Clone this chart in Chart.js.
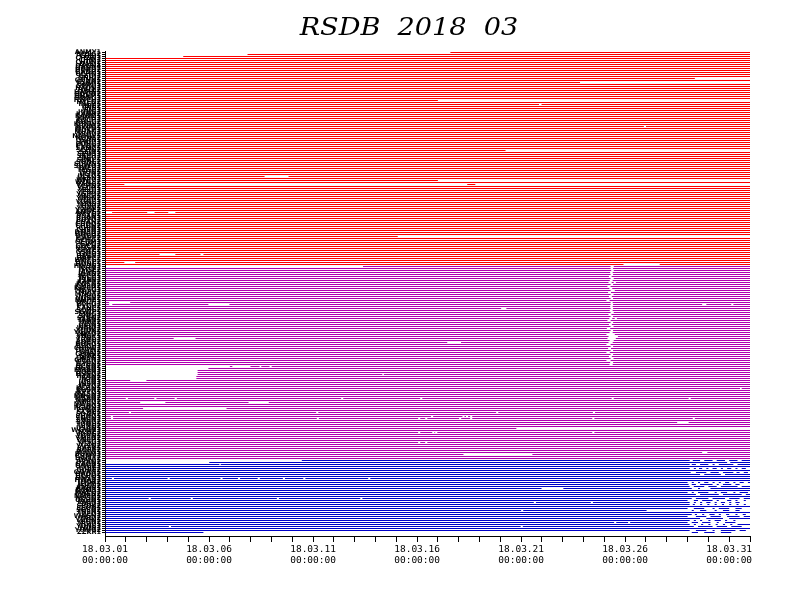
<!DOCTYPE html>
<html><head><meta charset="utf-8">
<script src="https://cdn.jsdelivr.net/npm/chart.js@4.4.0/dist/chart.umd.min.js"></script>
<style>html,body{margin:0;padding:0;background:#fff;}</style>
</head><body>
<canvas id="c" width="792" height="612"></canvas>
<script>
// ---------------- DATA ----------------
const titleText = 'RSDB  2018  03';
const dayTicks = [0,1,2,3,4,5,6,7,8,9,10,11,12,13,14,15,16,17,18,19,20,21,22,23,24,25,26,27,28,29,30,31];
const majorDays = [0,5,10,15,20,25,30];
const dateLabels = ['18.03.01','18.03.06','18.03.11','18.03.16','18.03.21','18.03.26','18.03.31'];
const timeLabels = ['00:00:00','00:00:00','00:00:00','00:00:00','00:00:00','00:00:00','00:00:00'];

const stationLabels = ('ANMY1 BOSG2 CHEJ1 CHLW3 CHNJ1 CHUN2 DAEJ1 DAGN4 DANG1 DOKD2 ' +
'GANH1 GCHN3 GEOJ1 GNJU2 GOHN1 GSAN2 GUMI1 GWNJ3 HADN1 HALL2 ' +
'HAMN1 HDON2 HNAM1 HONG3 HWCH1 HYEN2 INCH1 INJE2 JEJU1 JINJ3 ' +
'JUNG1 KANR2 KARM1 KIMH3 KOCH1 KOHG2 KUNW1 KWNJ2 MKPO1 MOKP3 ' +
'MUAN1 MUJU2 NAMW1 NONS2 OSAN1 PAJU3 POHG1 PUSN2 SAMC1 SCHN2 ' +
'SEJN1 SEOS3 SKCH1 SNJU2 SOKC1 SONC2 SUWN1 SUWO3 TAEB1 TEGU2 ' +
'TJON1 ULJN2 ULLG1 ULSN3 WNJU1 WOLS2 YANG1 YCHN2 YECH1 YEOJ3 ' +
'YESU1 YGPO2 YNGJ1 YNSN2 YOJU1 YONG3 YOUS1 YPRI2 YSAN1 YWOL2 ' +
'ANDG1 BRYG2 BSAN1 BUAN3 BUYO1 CHAN2 CHDO1 CHGN2 CHJN1 CHSN3 ' +
'DMSN1 DNGH2 DUCH1 GAPY2 GCHG1 GEUM3 GIMJ1 GOCH2 GOSN1 GRYE2 ' +
'GSNG1 GYJU3 HAEN1 HAPC2 HMYG1 HNGC2 HONC1 HWSN3 ICHN1 IMSL2 ' +
'JANG1 JDAN2 JECH1 JNGS3 JSAN1 KAPY2 KGSN1 KMSN2 KWCH1 MGYG3 ' +
'MIRY1 MNGY2 NAJU1 NGSN2 NMHE1 OKCH3 PCHG1 PYCH2 SANC1 SCHG2 ' +
'SGWP1 SJNG3 SNGJ1 SSAN2 TAAN1 UIRY2 UISN1 URJN3 WANJ1 YDOK2 ' +
'YGWN1 YNGD2 YNGY1 YSNG3 YUNG1 BOEN2 BONG1 BUCH3 CHRW1 DNYN2 ' +
'GAEJ1 GDAN2 GJAE1 GKSN3 GMRN1 GSGU2 GYEN1 HCHN2 HGAN1 HMAN3 ' +
'HOEN1 HSNG2 HYAN1 IKSN2 JAIN1 JGSN3 JNSN1 JPYG2 KCHN1 KOSN2 ' +
'KPYG1 MASN3 MNGN1 MSAN2 NDSN1 NMJU2 NWSN1 OSNG3 PGWN1 PYNG2 ' +
'SCHE1 SDAN2 SHNG1 SNGN3 SNSN1 SYNG2 TONG1 UJNG2 USAN1 WGWN3 ' +
'YCHE1 YDNG2 YGSN1 YMSN2 YNCH1 YPYG3 YSNJ1 YUSN2 BAEK1 BGRY2 ' +
'BOSN1 BUKM3 CHMY1 DAMY2 DANJ1 DSAN2 GAGN1 GNGR3 GOJE1 GURY2 ' +
'GWAN1 HADG2 HCHO1 HNSN3 HWAS1 JDOK2 JEOM1 JOGS2 KAPN1 KUMS3 ' +
'MAPO1 MYEN2 NAMH1 NOSN2 OCHN1 PAEN3 SAGJ1 SBUK2 SEON1 SOSN2 ' +
'TNSN1 UJEO3 WAGN1 YAGJ2 YDON1 YEGN2 YGJU1 YONS3 YUIN1 YUMG2 ZZKR1').split(' ');

// Availability segments per station row, in days since 18.03.01 00:00 (F = whole month)
const F = [[0, 31]];
const redRows = [
  [[16.6,31]], [[6.85,31]], [[3.76,31]], F, F, F, F, F, F, F, F, F, F,
  [[0,28.35]], F, [[0,22.83]], F, F, F, F, F, F, F, F,
  [[0,16.0]], F, [[0,20.86],[20.98,31]], F, F, F, F, F, F, F, F, F, F,
  [[0,25.9],[26.0,31]], F, F, F, F, F, F, F, F, F, F, F,
  [[0,19.25]], F, F, F, F, F, F, F, F, F, F, F, F,
  [[0,7.67],[8.82,31]], F, [[0,16.0]], F, [[0,0.93],[17.41,17.8]],
  F, F, F, F, F, F, F, F, F, F, F, F, F,
  [[0.34,2.03],[2.38,3.04],[3.38,31]], F, F, F, F, F, F, F, F, F, F, F,
  [[0,14.07]], F, F, F, F, F, F, F, F,
  [[0,2.62],[3.38,4.59],[4.73,31]], F, F, F,
  [[0,0.93],[1.45,31]], [[0,24.92],[26.66,31]]
];
const magentaRows = [
  [[12.4,24.3],[24.45,31]],
  [[0,24.3],[24.42,31]], [[0,24.33],[24.45,31]], [[0,24.28],[24.4,31]], [[0,24.3],[24.42,31]],
  [[0,24.22],[24.35,31]], [[0,24.3],[24.45,31]], [[0,24.26],[24.4,31]], [[0,24.2],[24.35,24.45],[24.55,31]],
  [[0,24.3],[24.42,31]], [[0,24.15],[24.3,31]], [[0,24.24],[24.38,31]], [[0,24.3],[24.5,31]],
  [[0,24.18],[24.32,31]], [[0,24.3],[24.44,31]], [[0,24.22],[24.36,31]], [[0,24.3],[24.42,31]],
  [[0,24.1],[24.25,31]],
  [[0,0.2],[1.21,24.3],[24.4,31]],
  [[0,0.2],[0.35,4.97],[5.98,24.3],[24.42,28.7],[28.9,30.1],[30.2,31]],
  [[0,24.28],[24.4,31]],
  [[0,19.04],[19.29,24.3],[24.42,31]],
  [[0,24.26],[24.4,31]], [[0,24.3],[24.45,31]], [[0,24.2],[24.34,31]], [[0,24.3],[24.42,31]],
  [[0,24.24],[24.38,24.5],[24.6,31]], [[0,24.15],[24.3,31]], [[0,24.3],[24.42,31]], [[0,24.22],[24.36,31]],
  [[0,24.3],[24.44,31]], [[0,24.12],[24.28,31]], [[0,24.3],[24.42,31]], [[0,24.25],[24.4,31]],
  [[0,24.1],[24.5,31]], [[0,24.2],[24.65,31]],
  [[0,3.3],[4.35,24.15],[24.55,31]],
  [[0,24.25],[24.45,31]],
  [[0,16.45],[17.11,24.2],[24.4,31]],
  [[0,24.1],[24.3,31]], [[0,24.3],[24.42,31]], [[0,24.18],[24.32,31]], [[0,24.3],[24.42,31]],
  [[0,24.1],[24.26,31]], [[0,24.3],[24.42,31]], [[0,24.22],[24.36,31]], [[0,24.3],[24.44,31]],
  [[0,24.1],[24.3,31]], [[0,24.28],[24.42,31]], [[0,24.25],[24.4,31]],
  [[6.0,6.12],[6.99,7.43],[7.51,7.91],[8.01,31]],
  [[4.97,31]], [[4.45,31]], [[4.45,31]], [[4.45,13.33],[13.4,31]], [[4.39,31]], [[4.39,31]],
  [[0,1.21],[1.99,31]], F, F, F,
  [[0,30.52],[30.6,31]], F, F, F, F,
  [[0,1.0],[1.1,2.37],[2.47,3.35],[3.45,11.35],[11.45,15.15],[15.25,24.35],[24.45,28.05],[28.15,31]],
  F,
  [[0,1.69],[2.9,6.9],[7.87,31]], F, F,
  [[0,1.83],[5.84,31]], F,
  [[0,1.15],[1.25,10.15],[10.25,18.8],[18.9,23.45],[23.55,31]], F,
  [[0,0.28],[0.38,15.67],[15.77,17.18],[17.28,17.35],[17.45,17.55],[17.65,31]],
  [[0,0.29],[0.39,10.18],[10.28,15.05],[15.15,15.39],[15.49,17.02],[17.12,17.55],[17.65,23.42],[23.52,28.25],[28.35,31]],
  F,
  [[0,27.5],[28.05,31]], F, F,
  [[0,19.77]], F,
  [[0,15.05],[15.15,15.73],[15.83,15.87],[15.97,23.42],[23.52,31]], F, F, F, F,
  [[0,15.05],[15.15,15.39],[15.49,31]], F, F, F, F,
  [[0,28.7],[28.95,31]],
  [[0,17.23],[20.54,31]], F, F
];
const blueRows = [
  [[9.46,28.1],[28.25,28.6],[28.8,29.2],[29.4,29.8],[30.0,30.4],[30.6,31]],
  [[5.01,29.9],[30.05,31]],
  [[0,5.5],[5.56,28.1],[28.2,28.4],[28.6,29.0],[29.2,29.3],[29.5,30.2],[30.4,31]],
  F,
  [[0,28.1],[28.3,28.4],[28.55,28.7],[28.9,29.0],[29.2,29.4],[29.6,29.7],[29.9,30.1],[30.3,30.4],[30.6,30.8]],
  F,
  [[0,28.15],[28.4,28.9],[29.1,29.5],[29.7,30.2],[30.35,30.5],[30.7,30.9]],
  [[0,28.6],[28.8,29.6],[29.8,31]],
  F,
  [[0,0.33],[0.43,3.01],[3.11,5.55],[5.65,6.39],[6.49,7.34],[7.44,8.55],[8.65,9.53],[9.63,12.65],[12.75,31]],
  F,
  [[0,28.0],[28.2,28.3],[28.5,28.6],[28.8,29.0],[29.2,29.3],[29.5,29.6],[29.8,30.0],[30.2,30.3],[30.5,30.7],[30.9,31]],
  [[0,28.05],[28.2,28.4],[28.6,29.2],[29.4,29.5],[29.7,30.1],[30.3,30.5]],
  [[0,28.1],[28.3,28.8],[29.0,29.4],[29.6,30.4],[30.6,31]],
  [[0,20.98],[22.03,28.2],[28.5,28.6],[29.1,31]],
  F,
  [[0,28.0],[28.2,28.3],[28.5,29.0],[29.3,29.4],[29.6,29.9],[30.2,30.3],[30.5,30.9]],
  [[0,28.4],[28.6,29.5],[29.7,30.6],[30.8,31]],
  F,
  [[0,2.1],[2.2,4.12],[4.22,8.26],[8.36,12.27],[12.37,28.2],[28.4,29.0],[29.2,29.8],[30.0,30.5],[30.7,31]],
  [[0,28.0],[28.3,28.5],[28.7,29.2],[29.4,29.5],[29.9,30.1],[30.3,30.4],[30.7,30.8]],
  [[0,20.61],[20.71,23.35],[23.45,28.1],[28.3,28.4],[28.6,28.7],[28.9,29.1],[29.3,29.4],[29.6,29.8],[30.0,30.1],[30.3,30.5]],
  [[0,28.1],[28.25,28.35],[28.6,28.7],[28.95,29.05],[29.3,29.4],[29.65,29.75],[30.0,30.1],[30.35,30.45],[30.7,30.8]],
  F,
  [[0,28.0],[28.3,28.8],[29.2,29.3],[29.5,30.0],[30.3,30.6]],
  [[0,20.0],[20.1,26.03],[28.2,28.3],[28.6,28.9],[29.3,29.4],[29.7,30.0],[30.3,30.5]],
  F,
  [[0,28.2],[28.35,28.45],[28.7,28.8],[29.05,29.3],[29.5,29.6],[29.85,30.0],[30.3,30.4],[30.65,30.8]],
  [[0,28.0],[28.4,28.9],[29.1,29.6],[29.9,30.5],[30.7,31]],
  [[0,28.6],[28.9,29.7],[30.0,31]],
  [[0,28.1],[28.3,28.4],[28.6,28.7],[29.0,29.1],[29.3,29.6],[29.8,29.9],[30.2,30.3]],
  [[0,24.47],[24.57,25.14],[25.24,28.0],[28.2,28.5],[28.7,29.1],[29.4,29.5],[29.8,30.3]],
  [[0,28.1],[28.3,28.4],[28.65,28.75],[29.0,29.1],[29.35,29.45],[29.7,29.8],[30.05,30.15],[30.4,31]],
  [[0,3.07],[3.17,19.98],[20.08,28.3],[28.5,29.2],[29.4,29.9],[30.1,30.6]],
  F,
  [[0,28.1],[28.4,28.9],[29.2,29.3],[29.6,30.3],[30.5,30.8]],
  [[0,4.73],[28.2,28.5],[28.8,29.3],[29.6,30.1]]
];
const groupColors = ['#FF0000', '#B000B0', '#0000C8'];

// ---------------- BUILD DATASETS ----------------
const groups = [redRows, magentaRows, blueRows];
const datasets = [];
let rowIndex = 0;
groups.forEach((rows, g) => {
  const slots = [];
  rows.forEach((segs, i) => {
    segs.forEach((s, k) => {
      if (!slots[k]) slots[k] = [];
      slots[k].push({ y: rowIndex + i, x: [s[0], s[1]] });
    });
  });
  rowIndex += rows.length;
  slots.forEach(data => datasets.push({
    data, backgroundColor: groupColors[g], borderWidth: 0, borderSkipped: false,
    inflateAmount: 0, grouped: false, maxBarThickness: 1,
    barPercentage: 0.5, categoryPercentage: 1
  }));
});

// snap the 1px bars to whole device pixels so they stay crisp
const snapPlugin = {
  id: 'snapBars',
  afterDatasetsUpdate(chart) {
    chart.getSortedVisibleDatasetMetas().forEach(meta => {
      meta.data.forEach(el => { el.y = Math.floor(el.y) + 0.5; el.height = 1; });
    });
  }
};

const titlePlugin = {
  id: 'rsdbTitle',
  afterDraw(chart) {
    const c = chart.ctx;
    c.save();
    c.font = 'italic 24px "DejaVu Serif"';
    c.fillStyle = '#000';
    c.textAlign = 'center';
    c.textBaseline = 'alphabetic';
    c.translate(409, 35);
    c.scale(1.13, 1);
    c.fillText(titleText, 0, 0);
    c.restore();
  }
};

new Chart(document.getElementById('c'), {
  type: 'bar',
  data: { datasets },
  plugins: [snapPlugin, titlePlugin],
  options: {
    indexAxis: 'y',
    responsive: false,
    animation: false,
    devicePixelRatio: 1,
    layout: { padding: { top: 51, right: 42, left: 0, bottom: 0 } },
    plugins: { legend: { display: false }, tooltip: { enabled: false }, title: { display: false } },
    scales: {
      x: {
        type: 'linear', position: 'bottom', min: 0, max: 31, offset: false,
        afterFit: s => { s.height = 76; },
        afterBuildTicks: s => { s.ticks = dayTicks.map(v => ({ value: v })); },
        grid: { display: true, drawOnChartArea: false, drawTicks: true, tickLength: 6, color: '#000', offset: false },
        border: { display: true, color: '#000', width: 1 },
        ticks: {
          autoSkip: false, maxRotation: 0, minRotation: 0, padding: 2, color: '#000',
          font: { family: 'DejaVu Sans Mono', size: 9.5, lineHeight: 1.16 },
          callback: (v) => { const k = majorDays.indexOf(v); return k >= 0 ? [dateLabels[k], timeLabels[k]] : ''; }
        }
      },
      y: {
        type: 'linear', reverse: true, min: -0.75, max: 241.75, offset: false,
        afterFit: s => { s.width = 105; },
        afterBuildTicks: s => { s.ticks = stationLabels.map((_, i) => ({ value: i })); },
        grid: { display: true, drawOnChartArea: false, drawTicks: true, tickLength: 3, color: '#000', offset: false },
        border: { display: true, color: '#000', width: 1 },
        ticks: {
          autoSkip: false, padding: 1, color: '#000',
          font: { family: 'DejaVu Sans', size: 6.5, weight: 'bold' },
          callback: (v) => stationLabels[v]
        }
      }
    }
  }
});
</script>
</body></html>
